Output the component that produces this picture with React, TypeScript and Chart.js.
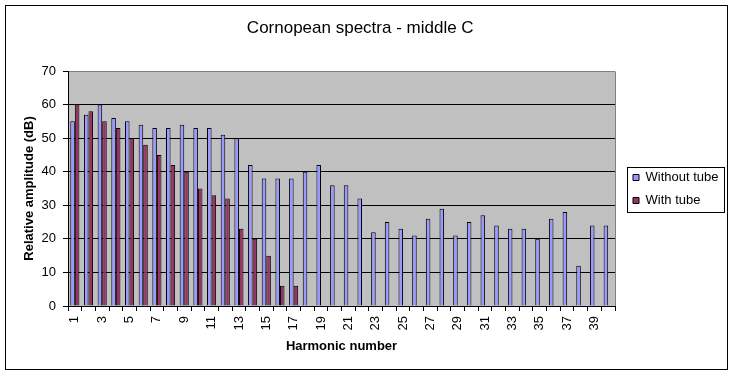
import React, { useEffect, useRef } from 'react';
import { Chart, registerables } from 'chart.js';

Chart.register(...registerables);

const harmonics = [
  '1', '2', '3', '4', '5', '6', '7', '8', '9', '10',
  '11', '12', '13', '14', '15', '16', '17', '18', '19', '20',
  '21', '22', '23', '24', '25', '26', '27', '28', '29', '30',
  '31', '32', '33', '34', '35', '36', '37', '38', '39', '40',
];

const withoutTube = [
  55, 57, 60, 56, 55, 54, 53, 53, 54, 53,
  53, 51, 50, 42, 38, 38, 38, 40, 42, 36,
  36, 32, 22, 25, 23, 21, 26, 29, 21, 25,
  27, 24, 23, 23, 20, 26, 28, 12, 24, 24,
];

const withTube: (number | null)[] = [
  60, 58, 55, 53, 50, 48, 45, 42, 40, 35,
  33, 32, 23, 20, 15, 6, 6, null, null, null,
  null, null, null, null, null, null, null, null, null, null,
  null, null, null, null, null, null, null, null, null, null,
];

const yTicks = [0, 10, 20, 30, 40, 50, 60, 70];

const FAMILY = '"Liberation Sans", Arial, sans-serif';

const framePlugin = {
  id: 'excelFrame',
  afterLayout(chart: any) {
    const lg = chart.legend;
    if (lg) {
      lg.left += 8;
      lg.right += 8;
    }
  },
  beforeDraw(chart: any) {
    const { ctx, chartArea } = chart;
    ctx.save();
    ctx.fillStyle = '#ffffff';
    ctx.fillRect(0, 0, chart.width, chart.height);
    ctx.fillStyle = '#C0C0C0';
    ctx.fillRect(chartArea.left, chartArea.top, chartArea.right - chartArea.left, chartArea.bottom - chartArea.top);
    ctx.restore();
  },
  afterDraw(chart: any) {
    const { ctx, chartArea } = chart;
    ctx.save();
    ctx.lineWidth = 1;
    ctx.strokeStyle = '#808080';
    const r = Math.round(chartArea.right) + 0.5;
    ctx.beginPath();
    ctx.moveTo(r, Math.round(chartArea.top) + 0.5);
    ctx.lineTo(r, Math.round(chartArea.bottom));
    ctx.stroke();
    // legend border
    const lg = chart.legend;
    if (lg && lg.legendHitBoxes && lg.legendHitBoxes.length) {
      const hb = lg.legendHitBoxes;
      let minL = Infinity, maxR = -Infinity, minT = Infinity, maxB = -Infinity;
      for (const h of hb) {
        minL = Math.min(minL, h.left);
        maxR = Math.max(maxR, h.left + h.width);
        minT = Math.min(minT, h.top);
        maxB = Math.max(maxB, h.top + h.height);
      }
      ctx.strokeStyle = '#000000';
      ctx.strokeRect(Math.round(minL - 6) + 0.5, Math.round(minT - 4.5) + 0.5, Math.round(maxR - minL + 12), Math.round(maxB - minT + 9));
    }
    // outer frame
    ctx.strokeStyle = '#000000';
    ctx.strokeRect(5.5, 5.5, 722, 364);
    ctx.restore();
  },
};

export default function App() {
  const canvasRef = useRef<HTMLCanvasElement | null>(null);

  useEffect(() => {
    if (!canvasRef.current) return;
    const chart = new Chart(canvasRef.current, {
      type: 'bar',
      data: {
        labels: harmonics,
        datasets: [
          {
            label: 'Without tube',
            data: withoutTube,
            backgroundColor: '#9999FF',
            borderColor: '#000000',
            borderWidth: 1,
            categoryPercentage: 0.667,
            barPercentage: 1,
          },
          {
            label: 'With tube',
            data: withTube,
            backgroundColor: '#993366',
            borderColor: '#000000',
            borderWidth: 1,
            categoryPercentage: 0.667,
            barPercentage: 1,
          },
        ],
      },
      options: {
        animation: false,
        responsive: false,
        maintainAspectRatio: false,
        devicePixelRatio: 1,
        layout: { padding: { left: 0, right: 13.5, top: 2, bottom: 0 } },
        plugins: {
          title: {
            display: true,
            text: 'Cornopean spectra - middle C',
            color: '#000000',
            font: { family: FAMILY, size: 17, weight: 'normal' },
            padding: { top: 16, bottom: 32.6 },
          },
          legend: {
            position: 'right',
            labels: {
              boxWidth: 6,
              boxHeight: 6,
              padding: 10,
              color: '#000000',
              font: { family: FAMILY, size: 13 },
            },
          },
          tooltip: { enabled: false },
        },
        scales: {
          x: {
            grid: {
              offset: true,
              drawOnChartArea: false,
              tickLength: 5,
              color: '#000000',
            },
            border: { color: '#000000' },
            ticks: {
              autoSkip: false,
              minRotation: 90,
              maxRotation: 90,
              padding: 5,
              color: '#000000',
              font: { family: FAMILY, size: 13 },
              callback: (_v: any, i: number) => (i % 2 === 0 ? harmonics[i] : ''),
            },
            title: {
              display: true,
              text: 'Harmonic number',
              color: '#000000',
              font: { family: FAMILY, size: 13, weight: 'bold' },
              padding: { top: 0, bottom: 22 },
            },
            afterFit: (s: any) => {
              s.height = 70;
            },
          },
          y: {
            min: yTicks[0],
            max: yTicks[yTicks.length - 1],
            afterBuildTicks: (s: any) => {
              s.ticks = yTicks.map((v) => ({ value: v }));
            },
            grid: {
              color: (c: any) => (c.tick && c.tick.value === 70 ? '#808080' : '#000000'),
              tickColor: '#000000',
              tickLength: 5,
            },
            border: { color: '#000000' },
            ticks: {
              padding: 7,
              color: '#000000',
              font: { family: FAMILY, size: 13 },
            },
            title: {
              display: true,
              text: 'Relative amplitude (dB)',
              color: '#000000',
              font: { family: FAMILY, size: 13, weight: 'bold' },
              padding: { top: 22, bottom: 0 },
            },
            afterFit: (s: any) => {
              s.width = 68;
            },
          },
        },
      },
      plugins: [framePlugin],
    } as any);
    return () => chart.destroy();
  }, []);

  return (
    <div style={{ position: 'fixed', left: 0, top: 0, width: 734, height: 376, background: '#fff' }}>
      <canvas ref={canvasRef} width={734} height={376} style={{ display: 'block', width: 734, height: 376 }} />
    </div>
  );
}
